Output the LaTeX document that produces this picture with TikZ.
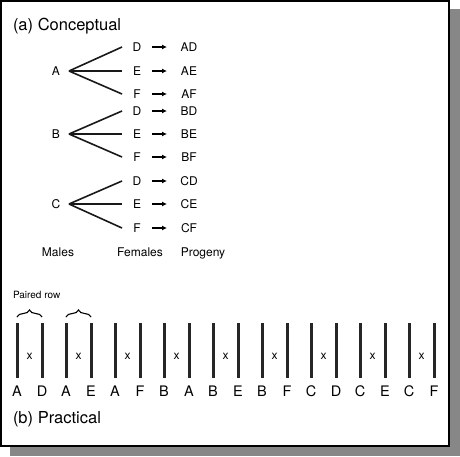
\documentclass[tikz,border=0pt]{standalone}
\usepackage{fontspec}
\setmainfont{TeX Gyre Heros}
\usetikzlibrary{arrows.meta,decorations.pathreplacing}

\begin{document}
\begin{tikzpicture}
        [x=1pt,y=1pt,every node/.style={inner sep=0,outer sep=0},label distance=8pt,
        every label/.style={font=\fontsize{14.5}{17}\selectfont},
        male/.style={minimum width=26pt,font=\fontsize{12}{14}\selectfont},
        female/.style={minimum width=30pt,font=\fontsize{12}{14}\selectfont},
        progeny/.style={minimum width=44pt,font=\fontsize{12}{14}\selectfont},
        heading/.style={anchor=base west,font=\fontsize{16.5}{20}\selectfont},
        column/.style={anchor=base,font=\fontsize{12}{14}\selectfont},
        row/.style={fill=black!85,minimum width=3pt,minimum height=55pt},
        cross/.style={font=\fontsize{12}{14}\selectfont},
        branch/.style={line width=1.6pt,black!90},
        breed/.style={line width=1.1pt,-{Latex[length=5pt,width=5pt]}},
        pairbrace/.style={decorate,decoration={brace,amplitude=7pt},line width=1.1pt}]

        \useasboundingbox (0,0) rectangle (460,-456);
        \fill[black!47] (10,-9) rectangle (460,-456);
        \draw[line width=1.2pt,fill=white] (1,-1) rectangle (449,-446);

        \node[heading] (conceptual) at (13,-30) {(a) Conceptual};
        \node[heading] (practical) at (13,-423) {(b) Practical};
        \node[anchor=base west,font=\fontsize{10}{12}\selectfont] (paired) at (13,-298) {Paired row};

        \node[male] (m1) at (56,-71) {A};
        \node[male] (m2) at (56,-134) {B};
        \node[male] (m3) at (56,-204) {C};

        \node[female] (f1) at (137,-47) {D};
        \node[female] (f2) at (137,-71) {E};
        \node[female] (f3) at (137,-94) {F};
        \node[female] (f4) at (137,-111) {D};
        \node[female] (f5) at (137,-134) {E};
        \node[female] (f6) at (137,-157) {F};
        \node[female] (f7) at (137,-181) {D};
        \node[female] (f8) at (137,-204) {E};
        \node[female] (f9) at (137,-228) {F};

        \node[progeny] (p1) at (189,-47) {AD};
        \node[progeny] (p2) at (189,-71) {AE};
        \node[progeny] (p3) at (189,-94) {AF};
        \node[progeny] (p4) at (189,-111) {BD};
        \node[progeny] (p5) at (189,-134) {BE};
        \node[progeny] (p6) at (189,-157) {BF};
        \node[progeny] (p7) at (189,-181) {CD};
        \node[progeny] (p8) at (189,-204) {CE};
        \node[progeny] (p9) at (189,-228) {CF};

        \node[column] (males) at (58,-256) {Males};
        \node[column] (females) at (140,-256) {Females};
        \node[column] (progeny) at (203,-256) {Progeny};

        \draw[branch] (m1.east) -- (f1.west);
        \draw[branch] (m1.east) -- (f2.west);
        \draw[branch] (m1.east) -- (f3.west);
        \draw[branch] (m2.east) -- (f4.west);
        \draw[branch] (m2.east) -- (f5.west);
        \draw[branch] (m2.east) -- (f6.west);
        \draw[branch] (m3.east) -- (f7.west);
        \draw[branch] (m3.east) -- (f8.west);
        \draw[branch] (m3.east) -- (f9.west);

        \draw[breed] (f1) -- (p1);
        \draw[breed] (f2) -- (p2);
        \draw[breed] (f3) -- (p3);
        \draw[breed] (f4) -- (p4);
        \draw[breed] (f5) -- (p5);
        \draw[breed] (f6) -- (p6);
        \draw[breed] (f7) -- (p7);
        \draw[breed] (f8) -- (p8);
        \draw[breed] (f9) -- (p9);

        \node[row,label=below:{A}] (r1) at (17,-350.5) {};
        \node[row,label=below:{D}] (r2) at (42,-350.5) {};
        \node[row,label=below:{A}] (r3) at (66,-350.5) {};
        \node[row,label=below:{E}] (r4) at (91,-350.5) {};
        \node[row,label=below:{A}] (r5) at (115,-350.5) {};
        \node[row,label=below:{F}] (r6) at (140,-350.5) {};
        \node[row,label=below:{B}] (r7) at (164,-350.5) {};
        \node[row,label=below:{A}] (r8) at (189,-350.5) {};
        \node[row,label=below:{B}] (r9) at (213,-350.5) {};
        \node[row,label=below:{E}] (r10) at (238,-350.5) {};
        \node[row,label=below:{B}] (r11) at (262,-350.5) {};
        \node[row,label=below:{F}] (r12) at (287,-350.5) {};
        \node[row,label=below:{C}] (r13) at (311,-350.5) {};
        \node[row,label=below:{D}] (r14) at (336,-350.5) {};
        \node[row,label=below:{C}] (r15) at (360,-350.5) {};
        \node[row,label=below:{E}] (r16) at (385,-350.5) {};
        \node[row,label=below:{C}] (r17) at (409,-350.5) {};
        \node[row,label=below:{F}] (r18) at (434,-350.5) {};

        \node[cross] (x1) at (29.5,-356) {x};
        \node[cross] (x2) at (78.5,-356) {x};
        \node[cross] (x3) at (127.5,-356) {x};
        \node[cross] (x4) at (176.5,-356) {x};
        \node[cross] (x5) at (225.5,-356) {x};
        \node[cross] (x6) at (274.5,-356) {x};
        \node[cross] (x7) at (323.5,-356) {x};
        \node[cross] (x8) at (372.5,-356) {x};
        \node[cross] (x9) at (421.5,-356) {x};

        \draw[pairbrace] ([yshift=6pt]r1.north) -- ([yshift=6pt]r2.north);
        \draw[pairbrace] ([yshift=6pt]r3.north) -- ([yshift=6pt]r4.north);
      \end{tikzpicture}
\end{document}
